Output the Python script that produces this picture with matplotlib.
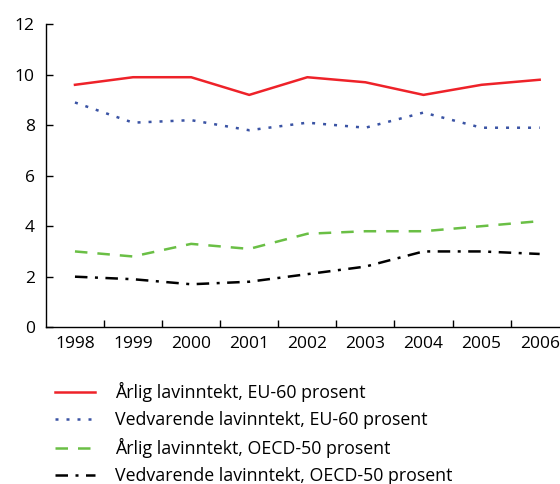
import matplotlib
matplotlib.use("Agg")
import matplotlib.pyplot as plt

plt.rcParams["font.family"] = ["Open Sans", "DejaVu Sans"]

years = ["1998", "1999", "2000", "2001", "2002", "2003", "2004", "2005", "2006"]
arlig_eu60 = [9.6, 9.9, 9.9, 9.2, 9.9, 9.7, 9.2, 9.6, 9.8]
vedv_eu60 = [8.9, 8.1, 8.2, 7.8, 8.1, 7.9, 8.5, 7.9, 7.9]
arlig_oecd50 = [3.0, 2.8, 3.3, 3.1, 3.7, 3.8, 3.8, 4.0, 4.2]
vedv_oecd50 = [2.0, 1.9, 1.7, 1.8, 2.1, 2.4, 3.0, 3.0, 2.9]
labels = [
    "Årlig lavinntekt, EU-60 prosent",
    "Vedvarende lavinntekt, EU-60 prosent",
    "Årlig lavinntekt, OECD-50 prosent",
    "Vedvarende lavinntekt, OECD-50 prosent",
]

fig = plt.figure(figsize=(5.6, 4.84), dpi=100)
ax = fig.add_axes([0.082, 0.324, 0.918, 0.626])
x = list(range(len(years)))

ax.plot(x, arlig_eu60, color="#ee2229", lw=1.8, label=labels[0])
ax.plot(x, vedv_eu60, color="#3a53a4", lw=1.8, dashes=(1.2, 3.2), label=labels[1])
ax.plot(x, arlig_oecd50, color="#6abf45", lw=1.8, dashes=(5, 4), label=labels[2])
ax.plot(x, vedv_oecd50, color="black", lw=1.8, dashes=(5, 3, 1.2, 3), label=labels[3])

ax.set_ylim(0, 12)
ax.set_yticks(range(0, 13, 2))
ax.set_xlim(-0.5, 8.35)
ax.set_xticks([i + 0.5 for i in range(len(years) - 1)], minor=False)
ax.set_xticklabels([])
ax.set_xticks(x, minor=True)
ax.set_xticklabels(years, minor=True)
ax.tick_params(axis="x", which="minor", length=0, labelsize=12.5, pad=6)
ax.tick_params(axis="x", which="major", direction="in", length=5, width=1)
ax.tick_params(axis="y", direction="in", length=5, width=1, labelsize=12.5, pad=8)
for s in ["top", "right"]:
    ax.spines[s].set_visible(False)
for s in ["left", "bottom"]:
    ax.spines[s].set_linewidth(1)

fig.legend(loc="upper left", bbox_to_anchor=(0.099, 0.21), frameon=False,
           fontsize=12.8, handlelength=2.25, handletextpad=1.1, labelspacing=0.5,
           borderaxespad=0, borderpad=0)

fig.savefig("out.png", dpi=100)
